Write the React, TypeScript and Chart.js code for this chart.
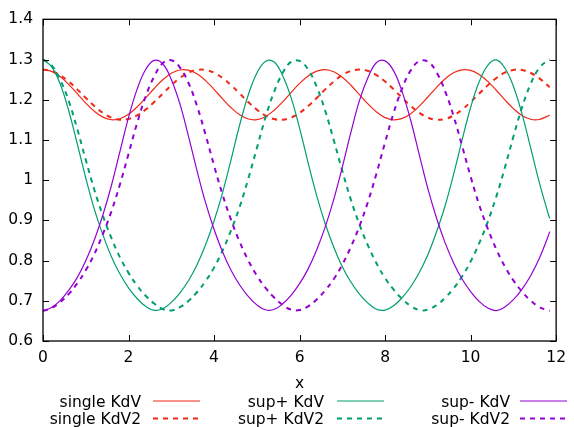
import React, { useEffect, useRef } from 'react';
import { Chart, registerables } from 'chart.js';

Chart.register(...registerables);

// sample positions along x
const xs = [
  0, 0.2, 0.4, 0.6, 0.8, 1, 1.2, 1.4, 1.6, 1.8,
  2, 2.2, 2.4, 2.6, 2.8, 3, 3.2, 3.4, 3.6, 3.8,
  4, 4.2, 4.4, 4.6, 4.8, 5, 5.2, 5.4, 5.6, 5.8,
  6, 6.2, 6.4, 6.6, 6.8, 7, 7.2, 7.4, 7.6, 7.8,
  8, 8.2, 8.4, 8.6, 8.8, 9, 9.2, 9.4, 9.6, 9.8,
  10, 10.2, 10.4, 10.6, 10.8, 11, 11.2, 11.4, 11.6, 11.8,
  11.85,
];

const singleKdV = [
  1.275, 1.2705, 1.2576, 1.2383, 1.2152, 1.1917, 1.1713, 1.1567, 1.1502, 1.1528,
  1.1637, 1.1819, 1.2044, 1.228, 1.2495, 1.2657, 1.274, 1.2736, 1.2644, 1.2476,
  1.2258, 1.2021, 1.1799, 1.1624, 1.152, 1.1505, 1.1579, 1.1734, 1.194, 1.2176,
  1.2405, 1.2592, 1.2712, 1.275, 1.2696, 1.256, 1.2361, 1.2128, 1.1895, 1.1694,
  1.1556, 1.1501, 1.1535, 1.1653, 1.1841, 1.2068, 1.2303, 1.2514, 1.2669, 1.2744,
  1.2731, 1.263, 1.2456, 1.2235, 1.1998, 1.1779, 1.1609, 1.1515, 1.1508, 1.1591,
  1.1622,
];

const singleKdV2 = [
  1.275, 1.2714, 1.2611, 1.2453, 1.2257, 1.2046, 1.1844, 1.1674, 1.1555, 1.1502,
  1.152, 1.1608, 1.1755, 1.1943, 1.2151, 1.2357, 1.2538, 1.2672, 1.2741, 1.2741,
  1.2671, 1.2538, 1.2358, 1.2152, 1.1942, 1.1753, 1.1607, 1.152, 1.1502, 1.1556,
  1.1674, 1.1844, 1.2045, 1.2257, 1.2453, 1.2611, 1.2714, 1.275, 1.2714, 1.2611,
  1.2453, 1.2257, 1.2046, 1.1844, 1.1674, 1.1555, 1.1502, 1.152, 1.1608, 1.1755,
  1.1943, 1.2151, 1.2357, 1.2538, 1.2672, 1.2741, 1.2741, 1.2671, 1.2538, 1.2358,
  1.2308,
];

const supPlusKdV = [
  1.3, 1.2822, 1.2396, 1.1732, 1.0909, 1.0054, 0.9281, 0.8644, 0.8096, 0.7665,
  0.7321, 0.7057, 0.6862, 0.6763, 0.6803, 0.696, 0.7193, 0.7499, 0.7892, 0.8386,
  0.8983, 0.9692, 1.0518, 1.1377, 1.2119, 1.2659, 1.2953, 1.2943, 1.2611, 1.2058,
  1.1293, 1.0432, 0.9616, 0.8916, 0.8332, 0.7846, 0.7466, 0.7165, 0.6942, 0.679,
  0.6769, 0.6875, 0.708, 0.735, 0.7704, 0.8144, 0.8704, 0.9352, 1.0138, 1.0995,
  1.1807, 1.2445, 1.2854, 1.299, 1.279, 1.2335, 1.1656, 1.0823, 0.9971, 0.9215,
  0.9048,
];

const supPlusKdV2 = [
  1.3, 1.2857, 1.25, 1.1975, 1.1275, 1.0507, 0.9763, 0.9116, 0.856, 0.808,
  0.7694, 0.7377, 0.7125, 0.6931, 0.6797, 0.676, 0.684, 0.6994, 0.7212, 0.7486,
  0.7825, 0.825, 0.8757, 0.9338, 1.0033, 1.0794, 1.155, 1.2183, 1.2656, 1.2941,
  1.2966, 1.2751, 1.2325, 1.1725, 1.0994, 1.0226, 0.9513, 0.8897, 0.8374, 0.793,
  0.7563, 0.7278, 0.7047, 0.6871, 0.6773, 0.6779, 0.6888, 0.707, 0.7306, 0.7602,
  0.7975, 0.8428, 0.8963, 0.9588, 1.0308, 1.1079, 1.18, 1.2386, 1.2783, 1.2976,
  1.3,
];

const supMinusKdV = [
  0.675, 0.6833, 0.7004, 0.7257, 0.7576, 0.7994, 0.851, 0.9132, 0.9867, 1.0714,
  1.1561, 1.2258, 1.275, 1.2977, 1.2895, 1.2505, 1.1902, 1.1102, 1.0241, 0.9446,
  0.8778, 0.8211, 0.7754, 0.7392, 0.711, 0.6899, 0.6776, 0.6782, 0.6918, 0.7134,
  0.7425, 0.7794, 0.8265, 0.8838, 0.9522, 1.0325, 1.1186, 1.1977, 1.2552, 1.2927,
  1.2966, 1.2718, 1.2196, 1.1484, 1.0628, 0.9787, 0.9065, 0.8453, 0.7948, 0.7541,
  0.7229, 0.6984, 0.6819, 0.6756, 0.6846, 0.7027, 0.7285, 0.7615, 0.8039, 0.8569,
  0.8719,
];

const supMinusKdV2 = [
  0.675, 0.6818, 0.6963, 0.7165, 0.7432, 0.776, 0.8161, 0.8658, 0.9225, 0.9896,
  1.0651, 1.1416, 1.2081, 1.2578, 1.291, 1.2983, 1.2804, 1.2422, 1.185, 1.1135,
  1.0363, 0.9638, 0.9006, 0.8463, 0.8005, 0.7629, 0.7325, 0.7086, 0.69, 0.6782,
  0.6769, 0.6862, 0.7031, 0.7259, 0.7541, 0.79, 0.8339, 0.8855, 0.9463, 1.0171,
  1.0938, 1.1675, 1.2284, 1.273, 1.2959, 1.2948, 1.2688, 1.2223, 1.16, 1.0852,
  1.0088, 0.9388, 0.8796, 0.8285, 0.7855, 0.7508, 0.7231, 0.7008, 0.6849, 0.6763,
  0.675,
];

const seriesNames = ['single KdV', 'single KdV2', 'sup+ KdV', 'sup+ KdV2', 'sup- KdV', 'sup- KdV2'];

const xTickValues = [0, 2, 4, 6, 8, 10, 12];
const xTickLabels = ['0', '2', '4', '6', '8', '10', '12'];
const yTickValues = [0.6, 0.7, 0.8, 0.9, 1.0, 1.1, 1.2, 1.3, 1.4];
const yTickLabels = ['0.6', '0.7', '0.8', '0.9', '1', '1.1', '1.2', '1.3', '1.4'];
const xAxisTitle = 'x';

const RED = '#f02818';
const GREEN = '#009e73';
const PURPLE = '#9400d3';
const FONT = '"DejaVu Sans", sans-serif';
const FONT_SIZE = 15.5;

type Style = { color: string; dash: number[]; width: number };
const styles: Style[] = [
  { color: RED, dash: [], width: 1.2 },
  { color: RED, dash: [5, 5], width: 2 },
  { color: GREEN, dash: [], width: 1.2 },
  { color: GREEN, dash: [5, 5], width: 2 },
  { color: PURPLE, dash: [], width: 1.2 },
  { color: PURPLE, dash: [5, 5], width: 2 },
];

const legendCols = [
  { textRight: 141, sample: 153 },
  { textRight: 324, sample: 337 },
  { textRight: 510, sample: 520 },
];
const legendRows = [{ lineY: 401, baseY: 407 }, { lineY: 418.5, baseY: 423.5 }];

const gnuFrame = {
  id: 'gnuFrame',
  afterDraw(chart: any) {
    const { ctx, chartArea: a, scales } = chart;
    const xS = scales.x;
    const yS = scales.y;
    ctx.save();
    ctx.strokeStyle = '#000';
    ctx.lineWidth = 1;
    ctx.setLineDash([]);
    ctx.beginPath();
    xS.ticks.forEach((t: any) => {
      const px = Math.round(xS.getPixelForValue(t.value)) + 0.5;
      ctx.moveTo(px, a.bottom);
      ctx.lineTo(px, a.bottom - 6);
      ctx.moveTo(px, a.top);
      ctx.lineTo(px, a.top + 6);
    });
    yS.ticks.forEach((t: any) => {
      const py = Math.round(yS.getPixelForValue(t.value)) + 0.5;
      ctx.moveTo(a.left, py);
      ctx.lineTo(a.left + 6, py);
      ctx.moveTo(a.right, py);
      ctx.lineTo(a.right - 6, py);
    });
    ctx.stroke();
    ctx.lineWidth = 1.3;
    ctx.strokeRect(a.left, a.top, a.right - a.left, a.bottom - a.top);

    ctx.fillStyle = '#000';
    ctx.font = `${FONT_SIZE}px ${FONT}`;
    ctx.textBaseline = 'alphabetic';
    ctx.textAlign = 'center';
    ctx.fillText(xAxisTitle, (a.left + a.right) / 2, 388);

    seriesNames.forEach((name, i) => {
      const col = legendCols[Math.floor(i / 2)];
      const row = legendRows[i % 2];
      const st = styles[i];
      ctx.fillStyle = '#000';
      ctx.textAlign = 'right';
      ctx.fillText(name, col.textRight, row.baseY);
      ctx.strokeStyle = st.color;
      ctx.lineWidth = st.width;
      ctx.setLineDash(st.dash);
      ctx.beginPath();
      ctx.moveTo(col.sample, row.lineY);
      ctx.lineTo(col.sample + 47, row.lineY);
      ctx.stroke();
    });
    ctx.restore();
  },
};

export default function App() {
  const ref = useRef<HTMLCanvasElement>(null);
  useEffect(() => {
    document.body.style.margin = '0';
    const canvas = ref.current;
    if (!canvas) return;
    const datasets = [singleKdV, singleKdV2, supPlusKdV, supPlusKdV2, supMinusKdV, supMinusKdV2].map(
      (ys, i) => ({
        label: seriesNames[i],
        data: xs.map((x, j) => ({ x, y: ys[j] })),
        borderColor: styles[i].color,
        borderWidth: styles[i].width,
        borderDash: styles[i].dash,
        pointRadius: 0,
        tension: 0.4,
        fill: false,
        order: -i,
      })
    );
    const tickFont = { family: FONT, size: FONT_SIZE };
    const chart = new Chart(canvas, {
      type: 'line',
      data: { datasets },
      options: {
        animation: false,
        responsive: false,
        devicePixelRatio: 1,
        layout: { padding: { left: 0, right: 11, top: 13, bottom: 0 } },
        plugins: { legend: { display: false }, tooltip: { enabled: false }, title: { display: false } },
        scales: {
          x: {
            type: 'linear',
            min: 0,
            max: 12,
            afterBuildTicks: (s: any) => {
              s.ticks = xTickValues.map((v) => ({ value: v }));
            },
            afterFit: (s: any) => {
              s.height = 86;
            },
            ticks: {
              callback: (_v: any, i: number) => xTickLabels[i],
              padding: 8,
              color: '#000',
              font: tickFont,
              maxRotation: 0,
            },
            grid: { display: false, drawTicks: false },
            border: { display: false },
          },
          y: {
            type: 'linear',
            min: 0.6,
            max: 1.4,
            afterBuildTicks: (s: any) => {
              s.ticks = yTickValues.map((v) => ({ value: v }));
            },
            afterFit: (s: any) => {
              s.width = 43;
            },
            ticks: {
              callback: (_v: any, i: number) => yTickLabels[i],
              padding: 10,
              color: '#000',
              font: tickFont,
            },
            grid: { display: false, drawTicks: false },
            border: { display: false },
          },
        },
      },
      plugins: [gnuFrame],
    });
    return () => chart.destroy();
  }, []);
  return (
    <div style={{ width: 574, height: 427, background: '#fff' }}>
      <canvas ref={ref} width={574} height={427} style={{ display: 'block' }} />
    </div>
  );
}
